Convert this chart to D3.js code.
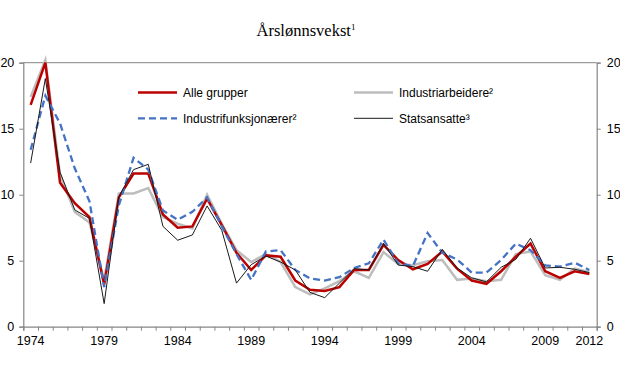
<!DOCTYPE html>
<html>
<head>
<meta charset="utf-8">
<script src="https://cdn.jsdelivr.net/npm/d3@7"></script>
<style>
  html, body { margin: 0; padding: 0; background: #fff; }
  svg { display: block; }
  text { font-family: "Liberation Sans", Arial, sans-serif; }
</style>
</head>
<body>
<svg id="chart" width="620" height="365"></svg>
<script>
const years = d3.range(1974, 2013);
const xTickLabels = [1974, 1979, 1984, 1989, 1994, 1999, 2004, 2009, 2012];
const yTicks = [0, 5, 10, 15, 20];

const alleGrupper = [16.8, 20.0, 10.9, 9.35, 8.3, 3.2, 9.8, 11.6, 11.6, 8.5, 7.5, 7.6, 9.7, 7.7, 5.6, 4.3, 5.4, 5.3, 3.5, 2.8, 2.7, 3.0, 4.3, 4.3, 6.2, 5.05, 4.35, 4.75, 5.7, 4.4, 3.5, 3.25, 4.2, 5.3, 6.3, 4.2, 3.7, 4.2, 4.0];
const industriarbeidere = [17.4, 20.2, 11.5, 8.7, 7.9, 3.5, 10.1, 10.1, 10.5, 8.3, 7.8, 7.45, 10.0, 7.8, 5.8, 4.9, 5.5, 4.9, 3.0, 2.45, 2.9, 3.45, 4.2, 3.7, 5.65, 4.75, 4.65, 4.95, 5.05, 3.55, 3.65, 3.45, 3.55, 5.5, 5.7, 3.9, 3.55, 4.4, 4.15];
const industrifunksjonaerer = [13.4, 17.5, 15.4, 12.0, 9.5, 3.0, 9.2, 12.8, 11.9, 8.8, 8.1, 8.7, 9.8, 7.6, 5.5, 3.55, 5.7, 5.8, 4.3, 3.65, 3.5, 3.75, 4.45, 4.8, 6.6, 4.8, 4.6, 7.1, 5.6, 5.1, 4.1, 4.1, 5.05, 6.3, 5.8, 4.65, 4.55, 4.85, 4.3];
const statsansatte = [12.4, 18.8, 11.7, 8.85, 8.2, 1.75, 9.85, 11.9, 12.3, 7.6, 6.55, 6.95, 9.15, 7.3, 3.3, 4.7, 5.35, 4.9, 4.3, 2.6, 2.2, 3.3, 4.4, 4.3, 6.3, 4.67, 4.55, 4.2, 5.86, 4.45, 3.7, 3.4, 4.5, 5.1, 6.7, 4.45, 4.5, 4.35, 4.1];

const seriesNames = ["Alle grupper", "Industriarbeidere²", "Industrifunksjonærer²", "Statsansatte³"];

const svg = d3.select("#chart");
const L = 23.3, R = 596.7, T = 62.7, B = 326.7;
const axisColor = "#868686";

const x = d3.scaleBand().domain(years).range([L, R]).padding(0);
const y = d3.scaleLinear().domain([0, 20]).range([B, T]);
const cx = d => x(d) + x.bandwidth() / 2;

// Title
const title = svg.append("text")
  .attr("x", 306).attr("y", 36)
  .attr("text-anchor", "middle")
  .style("font-family", "'Liberation Serif', 'Times New Roman', serif")
  .style("font-size", "16.5px")
  .attr("fill", "#000");
title.append("tspan").text("Årslønnsvekst");
title.append("tspan").attr("dy", -6).style("font-size", "9px").text("1");

// Frame top line
svg.append("line").attr("x1", L).attr("x2", R).attr("y1", T).attr("y2", T)
  .attr("stroke", axisColor).attr("stroke-width", 1);

// Left axis
const yl = svg.append("g").attr("transform", `translate(${L},0)`)
  .call(d3.axisLeft(y).tickValues(yTicks).tickSize(4).tickPadding(5));
// Right axis
const yr = svg.append("g").attr("transform", `translate(${R},0)`)
  .call(d3.axisRight(y).tickValues(yTicks).tickSize(4).tickPadding(6));
// Bottom axis: ticks at band boundaries
const xb = d3.scaleLinear().domain([0, years.length]).range([L, R]);
const xTicks = svg.append("g").attr("transform", `translate(0,${B})`)
  .call(d3.axisBottom(xb).tickValues(d3.range(0, years.length + 1)).tickSize(4).tickFormat(""));
const xLab = svg.append("g").attr("transform", `translate(0,${B})`)
  .call(d3.axisBottom(x).tickValues(xTickLabels).tickSize(0).tickPadding(9));
xLab.select(".domain").remove();

[yl, yr, xTicks].forEach(g => {
  g.select(".domain").attr("stroke", axisColor).attr("stroke-width", 1.2);
  g.selectAll(".tick line").attr("stroke", axisColor);
});
[yl, yr, xLab].forEach(g => {
  g.selectAll(".tick text").attr("fill", "#000")
    .style("font-family", "'Liberation Sans', Arial, sans-serif").style("font-size", "12.5px");
});

// Lines
const line = d3.line().x((d, i) => cx(years[i])).y(d => y(d));

const styles = [
  { data: industriarbeidere, color: "#bdbdbd", width: 2.5, dash: null },
  { data: alleGrupper, color: "#bb0000", width: 2.5, dash: null },
  { data: industrifunksjonaerer, color: "#4472c4", width: 2.3, dash: "7,4" },
  { data: statsansatte, color: "#1a1a1a", width: 1, dash: null }
];
styles.forEach(s => {
  svg.append("path").datum(s.data)
    .attr("d", line)
    .attr("fill", "none")
    .attr("stroke", s.color)
    .attr("stroke-width", s.width)
    .attr("stroke-linejoin", "miter")
    .attr("stroke-dasharray", s.dash);
});

// Legend
const legend = [
  { name: seriesNames[0], color: "#bb0000", width: 2.5, dash: null, x: 138, y: 92.5 },
  { name: seriesNames[1], color: "#bdbdbd", width: 2.5, dash: null, x: 354, y: 92.5 },
  { name: seriesNames[2], color: "#4472c4", width: 2.3, dash: "7,4", x: 138, y: 118.3 },
  { name: seriesNames[3], color: "#1a1a1a", width: 1, dash: null, x: 354, y: 118.3 }
];
legend.forEach(l => {
  svg.append("line").attr("x1", l.x).attr("x2", l.x + 39).attr("y1", l.y).attr("y2", l.y)
    .attr("stroke", l.color).attr("stroke-width", l.width).attr("stroke-dasharray", l.dash);
  svg.append("text").attr("x", l.x + 45).attr("y", l.y).attr("dy", "0.35em")
    .style("font-size", "12px").attr("fill", "#000").text(l.name);
});
</script>
</body>
</html>
